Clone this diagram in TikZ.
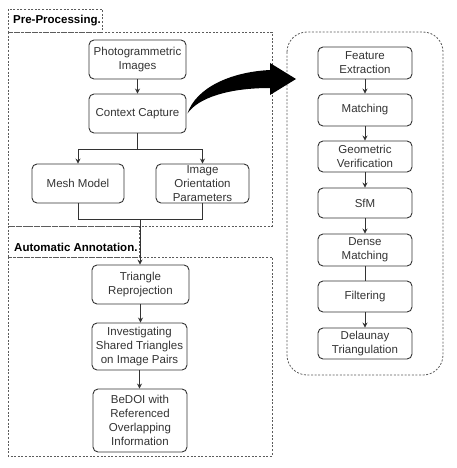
\documentclass[tikz,border=0pt]{standalone}
\usepackage{fontspec}
\setmainfont{Liberation Sans}
\usetikzlibrary{arrows.meta}
\definecolor{ink}{HTML}{333333}
\begin{document}
\begin{tikzpicture}[x=1pt,y=-1pt,
  box/.style={draw=ink,line width=0.9pt,rounded corners=5pt,align=center,text=ink,
    inner sep=0pt,font=\fontsize{11.5}{14}\selectfont},
  lbl/.style={font=\bfseries\fontsize{11.5}{14}\selectfont,text=black,anchor=west,inner sep=0pt},
  frame/.style={draw=ink!80,line width=0.8pt,dash pattern=on 2pt off 1.6pt},
  conn/.style={draw=ink,line width=0.9pt},
  arr/.style={conn,-{Stealth[length=5pt,width=5pt]}}]
\useasboundingbox (0,0) rectangle (457,468);
% frames
\draw[frame] (8,9) rectangle (102,32);
\draw[frame] (8,32) rectangle (272,226);
\draw[frame] (8,226) rectangle (139,257);
\draw[frame] (8,257) rectangle (272,456);
\draw[frame,rounded corners=20pt] (287,32) rectangle (443,375);
\node[lbl] (prelbl) at (13,21) {Pre-Processing.};
\node[lbl] (autolbl) at (14,247) {Automatic Annotation.};
% left nodes
\node[box,minimum width=97pt,minimum height=39pt] (photo) at (137.5,59.5) {Photogrammetric\\Images};
\node[box,minimum width=97pt,minimum height=39pt] (ctx) at (137.5,113.5) {Context Capture};
\node[box,minimum width=92pt,minimum height=39pt] (mesh) at (78,183.5) {Mesh Model};
\node[box,minimum width=93pt,minimum height=39pt] (ori) at (202.5,183.5) {Image\\Orientation\\Parameters};
\node[box,minimum width=97pt,minimum height=39pt] (tri) at (140.5,284.5) {Triangle\\Reprojection};
\node[box,minimum width=95pt,minimum height=47pt] (inv) at (139.5,346.5) {Investigating\\Shared Triangles\\on Image Pairs};
\node[box,minimum width=94pt,minimum height=63pt] (bedoi) at (140,420.5) {BeDOI with\\Referenced\\Overlapping\\Information};
% right nodes
\node[box,minimum width=94pt,minimum height=32pt] (fe) at (365,63) {Feature\\Extraction};
\node[box,minimum width=94pt,minimum height=32pt] (mt) at (365,110) {Matching};
\node[box,minimum width=94pt,minimum height=31pt] (gv) at (365,156.5) {Geometric\\Verification};
\node[box,minimum width=94pt,minimum height=30pt] (sfm) at (365,203) {SfM};
\node[box,minimum width=94pt,minimum height=32pt] (dm) at (365,250) {Dense\\Matching};
\node[box,minimum width=94pt,minimum height=31pt] (fil) at (365,296.5) {Filtering};
\node[box,minimum width=94pt,minimum height=31pt] (del) at (365,343.5) {Delaunay\\Triangulation};
% connectors left
\coordinate (split) at (137.5,149);
\coordinate (merge) at (140,219);
\draw[arr] (photo) -- (ctx);
\draw[conn] (ctx) -- (split);
\draw[arr] (split) -| (mesh.north);
\draw[arr] (split) -| (ori.north);
\draw[conn] (mesh.south) |- (merge);
\draw[conn] (ori.south) |- (merge);
\draw[arr] (merge) -- (tri.north -| merge);
\draw[arr] (tri) -- (tri|-inv.north);
\draw[arr] (inv) -- (inv|-bedoi.north);
% connectors right
\draw[arr] (fe) -- (mt);
\draw[arr] (mt) -- (gv);
\draw[arr] (gv) -- (sfm);
\draw[arr] (sfm) -- (dm);
\draw[conn] (dm) -- (fil);
\draw[arr] (fil) -- (del);
% big arrow
\coordinate (bigstart) at ([xshift=1pt]ctx.east);
\fill[black] (bigstart) .. controls (196,88) and (230,72) .. (270,70) -- (270,63) -- (296,79)
  -- (270,95) -- (270,88) .. controls (228,88) and (198,98) .. (bigstart) -- cycle;
\end{tikzpicture}
\end{document}
